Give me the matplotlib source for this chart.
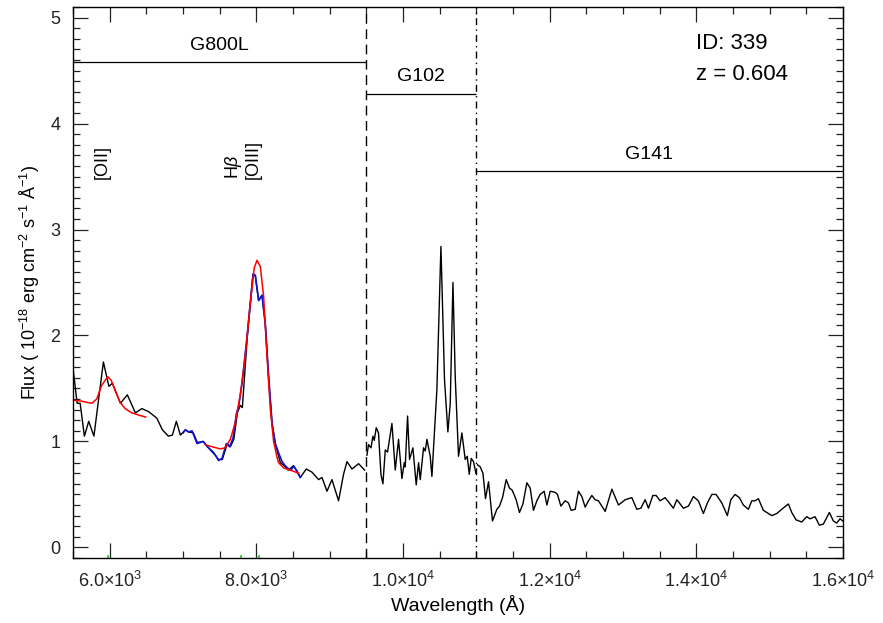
import matplotlib
matplotlib.use("Agg")
import matplotlib.pyplot as plt
from matplotlib.ticker import MultipleLocator, FuncFormatter

plt.rcParams["font.family"] = ["Liberation Sans", "DejaVu Sans"]
plt.rcParams["mathtext.fontset"] = "custom"
plt.rcParams["mathtext.rm"] = "Liberation Sans"
plt.rcParams["mathtext.it"] = "Liberation Sans:italic"

# observed spectrum, one piece per grism (wavelength in Angstrom, flux in 1e-18 cgs)
g800l_wave = [5505, 5556, 5597, 5655, 5714, 5785, 5914, 5989, 6037, 6146, 6241, 6350,
              6439, 6534, 6643, 6718, 6800, 6855, 6909, 6964, 7032, 7073, 7141, 7195,
              7277, 7332, 7413, 7482, 7536, 7604, 7645, 7693, 7741, 7781, 7809, 7877,
              7955, 7986, 8031, 8077, 8122, 8167, 8214, 8258, 8327, 8381, 8436, 8504,
              8554, 8599, 8681, 8759, 8849, 8895, 8963, 9031, 9121, 9189, 9236, 9304,
              9394, 9476]
g800l_flux = [1.66, 1.36, 1.36, 1.05, 1.19, 1.05, 1.75, 1.52, 1.55, 1.36, 1.44, 1.27,
              1.31, 1.28, 1.22, 1.11, 1.05, 1.06, 1.19, 1.06, 1.11, 1.09, 1.08, 0.99,
              1.00, 0.95, 0.90, 0.83, 0.83, 0.98, 0.95, 1.02, 1.27, 1.34, 1.32, 1.99,
              2.58, 2.56, 2.33, 2.38, 2.11, 1.61, 1.17, 0.98, 0.80, 0.77, 0.73, 0.77,
              0.72, 0.66, 0.74, 0.71, 0.64, 0.66, 0.53, 0.64, 0.44, 0.69, 0.81, 0.74,
              0.79, 0.73]

g102_wave = [9508, 9530, 9563, 9590, 9608, 9635, 9666, 9699, 9726, 9758, 9789, 9849,
             9894, 9939, 9985, 10017, 10030, 10062, 10089, 10135, 10180, 10212, 10235,
             10280, 10303, 10326, 10371, 10394, 10462, 10517, 10566, 10612, 10644,
             10681, 10712, 10757, 10803, 10848, 10876, 10903, 10930, 10961, 10994]
g102_flux = [0.87, 0.97, 0.94, 1.05, 1.01, 1.13, 1.08, 0.69, 0.60, 0.92, 0.90, 1.17,
             0.73, 1.02, 0.65, 0.80, 0.76, 1.24, 0.83, 0.94, 0.59, 0.80, 0.64,
             0.94, 0.91, 1.02, 0.86, 0.67, 1.49, 2.84, 1.58, 1.09, 1.36,
             2.50, 1.61, 0.86, 1.08, 0.83, 0.86, 0.69, 0.84, 0.81, 0.70]

g141_wave = [11016, 11053, 11090, 11125, 11166, 11220, 11280, 11316, 11357, 11407,
             11452, 11489, 11543, 11588, 11635, 11689, 11734, 11779, 11825, 11870,
             11925, 11962, 12007, 12075, 12106, 12153, 12211, 12256, 12293, 12348,
             12392, 12439, 12484, 12529, 12575, 12620, 12665, 12757, 12848, 12938,
             13029, 13120, 13188, 13243, 13302, 13347, 13407, 13452, 13506, 13574,
             13687, 13734, 13824, 13892, 13960, 14028, 14096, 14151, 14211, 14269,
             14347, 14423, 14470, 14528, 14587, 14641, 14710, 14756, 14801, 14846,
             14914, 14960, 15029, 15097, 15165, 15255, 15301, 15360, 15437, 15506,
             15551, 15619, 15677, 15732, 15814, 15868, 15914, 15960, 15996]
g141_flux = [0.78, 0.76, 0.70, 0.46, 0.62, 0.25, 0.36, 0.39, 0.47, 0.64,
             0.56, 0.54, 0.45, 0.33, 0.41, 0.61, 0.56, 0.35, 0.44, 0.50,
             0.53, 0.40, 0.53, 0.52, 0.50, 0.39, 0.44, 0.42, 0.35, 0.36,
             0.53, 0.48, 0.38, 0.44, 0.49, 0.45, 0.44, 0.34, 0.55, 0.40,
             0.45, 0.47, 0.36, 0.37, 0.45, 0.37, 0.49, 0.49, 0.44, 0.47,
             0.37, 0.45, 0.37, 0.39, 0.48, 0.44, 0.32, 0.42, 0.50, 0.50,
             0.42, 0.30, 0.45, 0.50, 0.47, 0.40, 0.36, 0.44, 0.44, 0.46,
             0.35, 0.33, 0.30, 0.32, 0.36, 0.41, 0.33, 0.26, 0.24, 0.29,
             0.27, 0.29, 0.21, 0.22, 0.33, 0.25, 0.23, 0.27, 0.25]

# finer sampling around H-beta / [OIII]
fine_wave = [7000, 7032, 7077, 7123, 7191, 7273, 7373, 7441, 7486, 7532, 7591, 7636,
             7682, 7727, 7758, 7805, 7873, 7955, 7986, 8031, 8077, 8122, 8167, 8214,
             8258, 8305, 8350, 8395, 8440, 8475, 8508, 8554, 8599]
fine_flux = [1.08, 1.11, 1.09, 1.10, 0.98, 1.00, 0.92, 0.87, 0.82, 0.84, 0.98, 0.95,
             1.03, 1.26, 1.33, 1.55, 1.99, 2.58, 2.57, 2.33, 2.38, 2.11, 1.61, 1.17,
             0.98, 0.89, 0.81, 0.77, 0.74, 0.73, 0.77, 0.72, 0.66]

# line fits
oii_fit_wave = [5505, 5618, 5755, 5823, 5891, 5973, 6019, 6074, 6142, 6210, 6300, 6391, 6491]
oii_fit_flux = [1.39, 1.38, 1.36, 1.40, 1.53, 1.61, 1.58, 1.48, 1.37, 1.31, 1.27, 1.25, 1.23]
hb_fit_wave = [7304, 7396, 7509, 7577, 7645, 7713, 7781, 7850, 7918, 7972, 8009, 8054,
               8099, 8145, 8190, 8235, 8282, 8303, 8372, 8463, 8576]
hb_fit_flux = [0.97, 0.95, 0.93, 0.94, 1.02, 1.18, 1.44, 1.81, 2.31, 2.64, 2.71, 2.65,
               2.37, 1.81, 1.31, 1.00, 0.85, 0.80, 0.75, 0.73, 0.70]

# grism coverage
grism_names = ["G800L", "G102", "G141"]
grism_start = [5500, 9500, 11000]
grism_end = [9500, 11000, 16000]
grism_level = [4.58, 4.28, 3.55]
grism_text_x = [7500, 10250, 13350]

# emission line positions (observed frame)
line_labels = ["[OII]", r"H$\beta$", "[OIII]"]
line_wave = [5978, 7797, 8031]

obj_id = 339
redshift = 0.604

fig = plt.figure(figsize=(8.83, 6.23), dpi=100)
ax = fig.add_axes([0.0827, 0.1043, 0.8720, 0.8845])

ax.plot(g800l_wave, g800l_flux, color="black", lw=1.0)
ax.plot(g102_wave, g102_flux, color="black", lw=1.0)
ax.plot(g141_wave, g141_flux, color="black", lw=1.0)
ax.plot(fine_wave, fine_flux, color="#1010d0", lw=1.2)
ax.plot(oii_fit_wave, oii_fit_flux, color="red", lw=1.1)
ax.plot(hb_fit_wave, hb_fit_flux, color="red", lw=1.1)

ax.axvline(grism_end[0], color="black", lw=1.0, ls=(0, (7, 4)))
ax.axvline(grism_end[1], color="black", lw=1.0, ls=(0, (5, 3, 1, 3)))

for name, x0, x1, lev, tx in zip(grism_names, grism_start, grism_end, grism_level, grism_text_x):
    ax.hlines(lev, x0, x1, color="black", lw=0.9)
    ax.text(tx, lev + 0.08, name, ha="center", va="bottom", fontsize=14)

for lab, w in zip(line_labels, line_wave):
    ax.text(w + 40, 3.48, lab, rotation=90, ha="right", va="bottom", fontsize=13)
    ax.vlines(w, -0.1, -0.075, color="#22cc22", lw=1.2)

ax.text(14000, 4.76, f"ID: {obj_id}", fontsize=16, va="center", ha="left")
ax.text(14000, 4.46, f"z = {redshift:.3f}", fontsize=16, va="center", ha="left")

ax.set_xlim(5500, 16000)
ax.set_ylim(-0.1, 5.1)


def sci_fmt(v, pos):
    exp = len(str(int(v))) - 1
    return rf"{v / 10**exp:.1f}$\times$10$^{{{exp}}}$"


ax.xaxis.set_major_locator(MultipleLocator(2000))
ax.xaxis.set_minor_locator(MultipleLocator(500))
ax.xaxis.set_major_formatter(FuncFormatter(sci_fmt))
ax.yaxis.set_major_locator(MultipleLocator(1))
ax.yaxis.set_minor_locator(MultipleLocator(0.1))

ax.tick_params(which="both", direction="in", top=True, right=True, width=0.9,
               labelsize=13, colors="#222222")
ax.tick_params(which="major", length=11)
ax.tick_params(which="minor", length=5)
ax.tick_params(axis="x", pad=9)
ax.tick_params(axis="y", pad=9)
for s in ax.spines.values():
    s.set_linewidth(1.0)

ax.set_xlabel("Wavelength (Å)", fontsize=14, labelpad=3)
ax.set_ylabel(r"Flux ( 10$^{-18}$ erg cm$^{-2}$ s$^{-1}$ Å$^{-1}$)", fontsize=13, labelpad=6)

fig.savefig("out.png", dpi=100)
